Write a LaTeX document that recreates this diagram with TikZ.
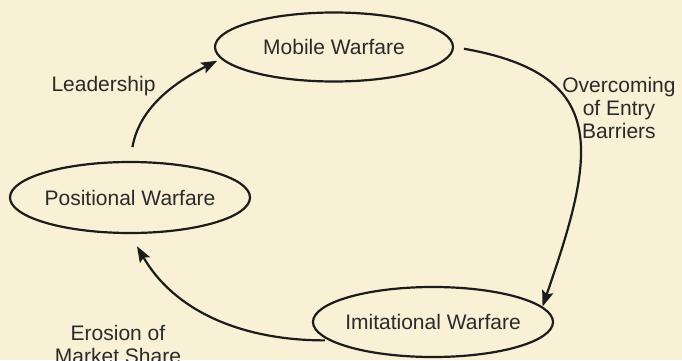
\documentclass[tikz,border=0pt]{standalone}
\usepackage{fontspec}
\setmainfont{Liberation Sans}
\usetikzlibrary{shapes.geometric,positioning,arrows.meta}
\definecolor{paper}{RGB}{248,241,214}
\definecolor{ink}{RGB}{28,28,28}
\definecolor{print}{RGB}{42,42,42}

\begin{document}
\begin{tikzpicture}[on grid,
    war/.style={ellipse,draw=ink,line width=1.1pt,inner sep=0pt,inner xsep=-12pt,
      text=print,font=\fontsize{10.5}{12}\selectfont},
    note/.style={align=center,inner sep=0pt,text=print,font=\fontsize{10.5}{11.5}\selectfont},
    every edge/.style={draw=ink,line width=1.1pt},
    >={Stealth[length=8pt,width=5.8pt,inset=1.5pt]}]
    \useasboundingbox (-65pt,-81.25pt) rectangle (276pt,98.75pt);
    \fill[paper] (-65pt,-81.25pt) rectangle (276pt,98.75pt);

    \node[war,minimum width=120pt,minimum height=35.5pt] (pos) {Positional Warfare};
    \node[war,minimum width=119pt,minimum height=34.5pt] (mob) [above right=75.25pt and 102pt of pos] {Mobile Warfare};
    \node[war,minimum width=120pt,minimum height=35pt] (imi) [below right=137.5pt and 49.5pt of mob] {Imitational Warfare};

    \node[note] (lead) [above left=55.5pt and 13.25pt of pos] {Leadership};
    \node[note] (entry) [below right=30.5pt and 142.5pt of mob] {Overcoming\\of Entry\\Barriers};
    \node[note] (erosion) [below left=73.25pt and 6pt of pos] {Erosion of\\Market Share};

    \path[->]
    (pos.north) edge[out=80,in=207,shorten <=7pt,shorten >=2pt] (mob.186)
    (mob.east) edge[out=-10,in=71,looseness=1.5,shorten <=5pt] (imi.8)
    (imi.190) edge[out=180,in=-60,shorten <=2pt,shorten >=7pt] (pos.south);
\end{tikzpicture}
\end{document}
